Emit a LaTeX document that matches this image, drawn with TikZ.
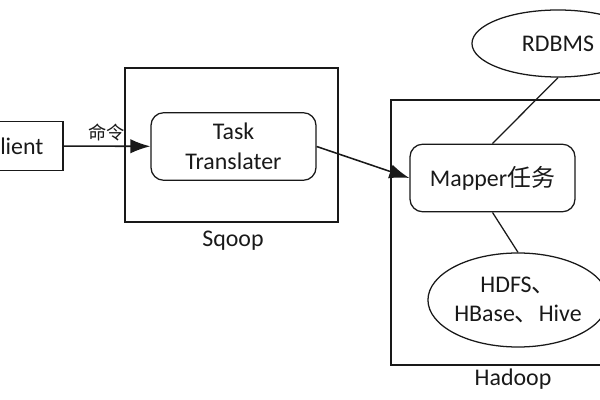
\documentclass[tikz,border=0pt]{standalone}
\usepackage{fontspec}
\setmainfont{Carlito}
\newfontfamily\cjk{Noto Sans CJK SC}
\usetikzlibrary{arrows.meta,shapes.geometric}

\begin{document}
\begin{tikzpicture}[x=0.025cm, y=-0.025cm, line width=0.9pt,
  font=\fontsize{17}{21}\selectfont, color=black!90,
  task/.style={draw, rounded corners=0.32cm, align=center, minimum width=4.125cm, minimum height=1.69cm},
  store/.style={draw, ellipse, align=center, inner sep=0pt},
  link/.style={line width=1.1pt, -{Latex[length=5mm,width=3.6mm]}}]
\clip (0,0) rectangle (600,400);
% frames
\draw[line width=0.75pt] (125,68) rectangle (338,222);
\draw[line width=0.75pt] (391,100) rectangle (620,365);
\node (sqoop) at (233,241) {Sqoop};
\node (hadoop) at (513,379) {Hadoop};
% nodes
\node[draw, minimum width=2.375cm, minimum height=1.225cm] (client) at (15.5,146) {Client};
\node[task] (trans) at (233.5,146.5) {Task\\Translater};
\node[task] (mapper) at (492.5,178) {Mapper{\cjk 任务}};
\node[store, minimum width=4.3cm, minimum height=1.675cm] (rdbms) at (558,43.5) {RDBMS};
\node[store, minimum width=4.25cm, minimum height=2.35cm] (hdfs) at (518,300) {HDFS{\cjk 、}\\HBase{\cjk 、}Hive};
% connectors
\draw[link] (client) -- node[above, font=\cjk\fontsize{13}{15}\selectfont] {命令} (trans);
\draw[link] (trans.east) -- (mapper.west);
\draw (mapper.north) -- (rdbms.south);
\draw (mapper.south) -- (hdfs.north);
\end{tikzpicture}
\end{document}
